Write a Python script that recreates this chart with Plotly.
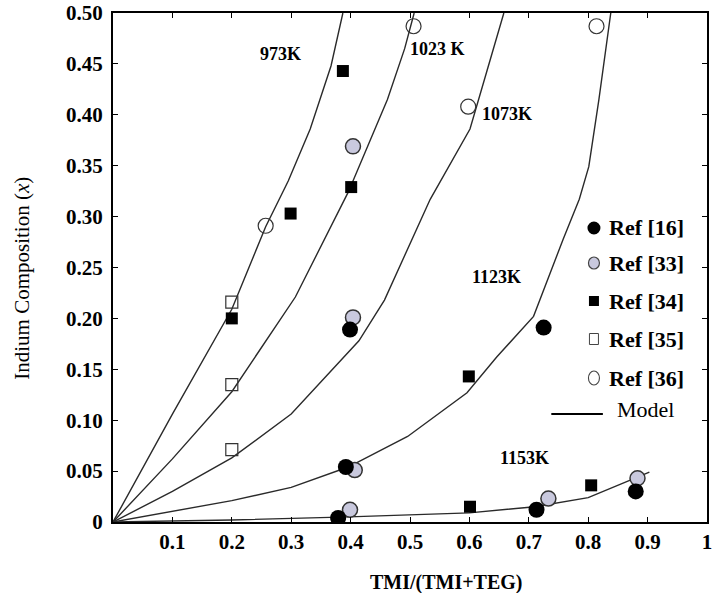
import plotly.graph_objects as go

# ---------------- data ----------------
# Model curves (TMI/(TMI+TEG) vs indium composition)
x_973 = [0, 0.1, 0.2, 0.257, 0.295, 0.332, 0.367, 0.387]
y_973 = [0, 0.106, 0.209, 0.29, 0.335, 0.386, 0.448, 0.5]

x_1023 = [0, 0.1, 0.2, 0.307, 0.396, 0.429, 0.462, 0.491, 0.507]
y_1023 = [0, 0.062, 0.128, 0.221, 0.324, 0.369, 0.415, 0.465, 0.5]

x_1073 = [0, 0.1, 0.2, 0.3, 0.414, 0.457, 0.534, 0.601, 0.629, 0.658]
y_1073 = [0, 0.03, 0.063, 0.106, 0.178, 0.218, 0.317, 0.386, 0.442, 0.5]

x_1123 = [0, 0.2, 0.3, 0.396, 0.496, 0.596, 0.646, 0.708, 0.758, 0.785, 0.801, 0.818, 0.838]
y_1123 = [0, 0.021, 0.034, 0.054, 0.084, 0.127, 0.162, 0.202, 0.278, 0.317, 0.349, 0.415, 0.5]

x_1153 = [0, 0.2, 0.397, 0.6, 0.71, 0.8, 0.883, 0.903]
y_1153 = [0, 0.002, 0.005, 0.009, 0.015, 0.024, 0.044, 0.049]

# Experimental data
ref16_x = [0.399, 0.392, 0.379, 0.725, 0.713, 0.88]
ref16_y = [0.189, 0.054, 0.004, 0.191, 0.012, 0.030]

ref33_x = [0.404, 0.404, 0.407, 0.399, 0.733, 0.883]
ref33_y = [0.369, 0.201, 0.051, 0.012, 0.023, 0.043]

ref34_x = [0.2, 0.299, 0.387, 0.401, 0.599, 0.601, 0.805]
ref34_y = [0.200, 0.303, 0.443, 0.329, 0.143, 0.015, 0.036]

ref35_x = [0.2, 0.2, 0.2]
ref35_y = [0.216, 0.135, 0.071]

ref36_x = [0.257, 0.506, 0.598, 0.814]
ref36_y = [0.291, 0.487, 0.408, 0.487]

# curve labels
curve_labels = ["973K", "1023 K", "1073K", "1123K", "1153K"]
curve_label_x = [0.282, 0.546, 0.663, 0.646, 0.693]
curve_label_y = [0.460, 0.465, 0.401, 0.241, 0.063]

# axes ticks
x_tickvals = [0.1, 0.2, 0.3, 0.4, 0.5, 0.6, 0.7, 0.8, 0.9, 1.0]
x_ticktext = ["0.1", "0.2", "0.3", "0.4", "0.5", "0.6", "0.7", "0.8", "0.9", "1"]
y_tickvals = [0, 0.05, 0.10, 0.15, 0.20, 0.25, 0.30, 0.35, 0.40, 0.45, 0.50]
y_ticktext = ["0", "0.05", "0.10", "0.15", "0.20", "0.25", "0.30", "0.35", "0.40", "0.45", "0.50"]

legend_labels = ["Ref [16]", "Ref [33]", "Ref [34]", "Ref [35]", "Ref [36]", "Model"]

# ---------------- figure ----------------
W, H = 713, 593
L, R, T, B = 113, 1, 13, 71
FONT = "Liberation Serif"
LINE_COLOR = "#2a2a2a"
GRAY_FILL = "#c9c9de"

fig = go.Figure()

for xs, ys in [(x_973, y_973), (x_1023, y_1023), (x_1073, y_1073),
               (x_1123, y_1123), (x_1153, y_1153)]:
    fig.add_trace(go.Scatter(x=xs, y=ys, mode="lines",
                             line=dict(color=LINE_COLOR, width=1.4),
                             showlegend=False, hoverinfo="skip"))

fig.add_trace(go.Scatter(x=ref33_x, y=ref33_y, mode="markers", showlegend=False,
                         marker=dict(symbol="circle", size=15, color=GRAY_FILL,
                                     line=dict(color="#333333", width=1.5))))
fig.add_trace(go.Scatter(x=ref16_x, y=ref16_y, mode="markers", showlegend=False,
                         marker=dict(symbol="circle", size=16, color="black",
                                     line=dict(color="black", width=0))))
fig.add_trace(go.Scatter(x=ref34_x, y=ref34_y, mode="markers", showlegend=False,
                         marker=dict(symbol="square", size=12, color="black",
                                     line=dict(width=0))))
fig.add_trace(go.Scatter(x=ref35_x, y=ref35_y, mode="markers", showlegend=False,
                         marker=dict(symbol="square-open", size=12, color="#333333",
                                     line=dict(width=1.2))))
fig.add_trace(go.Scatter(x=ref36_x, y=ref36_y, mode="markers", showlegend=False,
                         marker=dict(symbol="circle-open", size=15, color="#333333",
                                     line=dict(width=1.2))))

for txt, lx, ly in zip(curve_labels, curve_label_x, curve_label_y):
    fig.add_annotation(x=lx, y=ly, xref="x", yref="y", text=txt, showarrow=False,
                       font=dict(family=FONT, size=18, color="black", weight="bold"))

# ---------------- manual legend ----------------
def px2x(px):
    return (px - L) / (W - L - R)

def py2y(py):
    return 1 - (py - T) / (H - T - B)

leg_mx = px2x(598)
leg_y = [228, 263, 301, 339, 378]
shapes = []
shapes.append(dict(type="circle", xref="paper", yref="paper", xsizemode="pixel", ysizemode="pixel",
                   xanchor=leg_mx, yanchor=py2y(leg_y[0]), x0=-6.5, x1=6.5, y0=-6.5, y1=6.5,
                   fillcolor="black", line=dict(width=0)))
shapes.append(dict(type="circle", xref="paper", yref="paper", xsizemode="pixel", ysizemode="pixel",
                   xanchor=leg_mx, yanchor=py2y(leg_y[1]), x0=-5.5, x1=5.5, y0=-6, y1=6,
                   fillcolor=GRAY_FILL, line=dict(color="#444444", width=1.2)))
shapes.append(dict(type="rect", xref="paper", yref="paper", xsizemode="pixel", ysizemode="pixel",
                   xanchor=leg_mx, yanchor=py2y(leg_y[2]), x0=-5, x1=5, y0=-5, y1=5,
                   fillcolor="black", line=dict(width=0)))
shapes.append(dict(type="rect", xref="paper", yref="paper", xsizemode="pixel", ysizemode="pixel",
                   xanchor=leg_mx, yanchor=py2y(leg_y[3]), x0=-4.5, x1=4.5, y0=-5.5, y1=5.5,
                   fillcolor="white", line=dict(color="#444444", width=1)))
shapes.append(dict(type="circle", xref="paper", yref="paper", xsizemode="pixel", ysizemode="pixel",
                   xanchor=leg_mx, yanchor=py2y(leg_y[4]), x0=-5.5, x1=5.5, y0=-7, y1=7,
                   fillcolor="white", line=dict(color="#444444", width=1.1)))
shapes.append(dict(type="line", xref="paper", yref="paper",
                   x0=px2x(555), x1=px2x(607), y0=py2y(414), y1=py2y(414),
                   line=dict(color="black", width=2)))

for lab, ly in zip(legend_labels[:5], leg_y):
    fig.add_annotation(x=px2x(611), y=py2y(ly), xref="paper", yref="paper", text=lab,
                       showarrow=False, xanchor="left", yanchor="middle",
                       font=dict(family=FONT, size=22, color="black", weight="bold"))
fig.add_annotation(x=px2x(619), y=py2y(409), xref="paper", yref="paper", text=legend_labels[5],
                   showarrow=False, xanchor="left", yanchor="middle",
                   font=dict(family=FONT, size=22, color="black"))

# axis titles
fig.add_annotation(x=px2x(449), y=py2y(582), xref="paper", yref="paper", text="TMI/(TMI+TEG)",
                   showarrow=False, xanchor="center", yanchor="middle",
                   font=dict(family=FONT, size=20, color="black", weight="bold"))
fig.add_annotation(x=px2x(21), y=py2y(278), xref="paper", yref="paper",
                   text="Indium Composition (<i>x</i>)", textangle=-90,
                   showarrow=False, xanchor="center", yanchor="middle",
                   font=dict(family=FONT, size=21, color="black"))

axis_common = dict(showline=True, linecolor="black", linewidth=2, mirror="ticks",
                   ticks="inside", ticklen=5, tickwidth=1.3, tickcolor="black",
                   showgrid=False, zeroline=False,
                   tickfont=dict(family=FONT, size=21, color="black", weight="bold"))

fig.update_layout(
    width=W, height=H,
    margin=dict(l=L, r=R, t=T, b=B),
    paper_bgcolor="white", plot_bgcolor="white",
    showlegend=False,
    shapes=shapes,
    xaxis=dict(range=[0, 1.0], tickmode="array", tickvals=x_tickvals, ticktext=x_ticktext,
               ticklabelstandoff=0, ticklabeloverflow="allow", **axis_common),
    yaxis=dict(range=[0, 0.5], tickmode="array", tickvals=y_tickvals, ticktext=y_ticktext,
               ticklabelstandoff=4, **axis_common),
)

fig.write_html("out.html")
